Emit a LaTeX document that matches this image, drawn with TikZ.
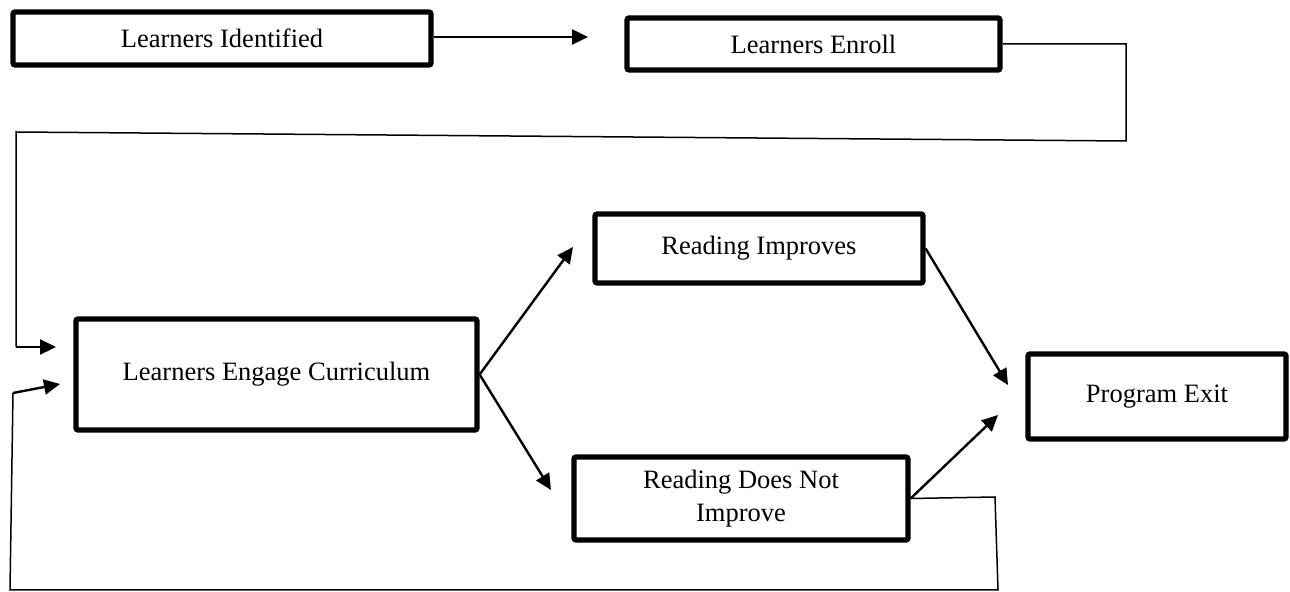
\documentclass[tikz,border=0pt]{standalone}
\usepackage{fontspec}
\setmainfont{Liberation Serif}
\usetikzlibrary{arrows.meta}
\begin{document}
\begin{tikzpicture}[x=0.5pt,y=-0.5pt,
  box/.style={draw, line width=2.6pt, rounded corners=1pt, inner sep=0pt,
    align=center, font=\fontsize{13.25pt}{16.5pt}\selectfont},
  link/.style={line width=1.2pt, -{Triangle[length=8pt,width=7.5pt]}},
  loopline/.style={line width=0.75pt}]
\useasboundingbox (0,0) rectangle (1290,592);
\fill[white] (0,0) rectangle (1290,592);

% stages
\node[box, minimum width=209pt, minimum height=26.5pt] (b1) at (222,38.5) {Learners Identified};
\node[box, minimum width=186.5pt, minimum height=26pt] (b2) at (813.5,44) {Learners Enroll};
\node[box, minimum width=200.5pt, minimum height=55.5pt] (lec) at (276.5,374.5) {Learners Engage Curriculum};
\node[box, minimum width=164pt, minimum height=34.5pt] (ri) at (759,248.5) {Reading Improves};
\node[box, minimum width=167pt, minimum height=41.5pt] (rdni) at (741,498.5) {Reading Does Not\\Improve};
\node[box, minimum width=129pt, minimum height=42.5pt] (pe) at (1157,396.5) {Program Exit};

% arrow tips and bends
\coordinate (t1) at (588,37);
\coordinate (t2) at (573,247);
\coordinate (t3) at (551,490);
\coordinate (t4) at (1008,385);
\coordinate (t5) at (998,415);
\coordinate (t6) at (56,347);
\coordinate (t7) at (60,384);
\coordinate (c1) at (1126,44);
\coordinate (c2) at (1126,141);
\coordinate (c3) at (16,132);
\coordinate (c4) at (16,347);
\coordinate (d1) at (995,497);
\coordinate (d2) at (998,590);
\coordinate (d3) at (10,590);
\coordinate (d4) at (13,393);

% forward flow
\draw[link] (b1.east |- t1) -- (t1);
\draw[link] (lec.east) -- (t2);
\draw[link] (lec.east) -- (t3);
\draw[link] (ri.east) -- (t4);
\draw[link] (rdni.east) -- (t5);

% enrolment feed into the curriculum
\draw[loopline] (b2.east) -- (c1) -- (c2) -- (c3) -- (c4);
\draw[link] (c4) -- (t6);

% repeat loop when reading does not improve
\draw[loopline] (rdni.east) -- (d1) -- (d2) -- (d3) -- (d4);
\draw[link] (d4) -- (t7);
\end{tikzpicture}
\end{document}
